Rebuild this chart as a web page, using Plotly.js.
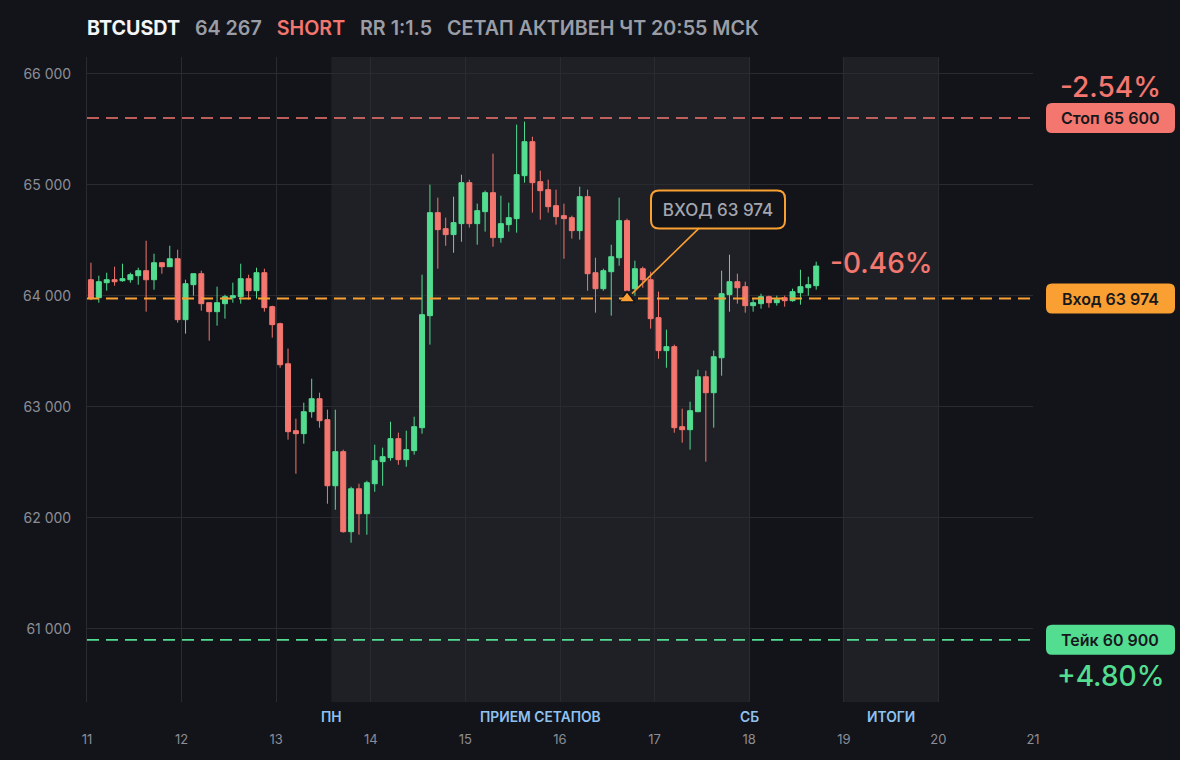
<!DOCTYPE html>
<html><head><meta charset="utf-8">
<script src="https://cdn.plot.ly/plotly-3.0.1.min.js"></script>
<style>html,body{margin:0;padding:0;background:#131419;}#chart{width:1180px;height:760px;}</style>
</head><body><div id="chart"></div>
<script>
// ---- data ----
const symbol = 'BTCUSDT';
const side = 'SHORT';
const rrText = 'RR 1:1.5';
const statusText = 'СЕТАП АКТИВЕН ЧТ 20:55 МСК';
const firstCandle = Date.UTC(2024, 4, 11, 1, 0);   // 11th, 01:00 (candle centre)
const candleHours = 2;

const openP  = [64144,63982,64117,64144,64135,64144,64180,64225,64144,64297,64261,64333,63784,64099,64198,63937,63856,63928,63982,63991,
                64153,64045,64207,63901,63748,63387,62784,62757,62955,63072,62883,62288,62595,61874,62261,62036,62306,62505,62541,62712,
                62523,62604,62811,63820,64748,64604,64550,64649,65018,64649,64757,64928,64523,64640,64694,65081,65387,65027,64955,64811,
                64721,64703,64586,64892,64207,64063,64216,64342,64676,64063,64243,64144,63802,63505,63541,62820,62793,62955,63270,63126,
                63441,64009,64126,64081,63910,63928,63991,63937,63982,63955,64027,64072,64090];
const highP  = [64297,64180,64207,64261,64288,64207,64252,64495,64378,64297,64450,64414,64144,64198,64225,63937,64081,64009,64117,64288,
                64189,64252,64243,63910,63757,63523,62892,63036,63252,63126,62973,62973,62613,62279,62306,62333,62658,62631,62865,62766,
                62784,62910,64189,65000,64883,64703,64892,65090,65045,64829,64946,65279,64901,64838,65541,65568,65432,65126,65045,64955,
                64829,64721,64982,64955,64342,64243,64459,64883,64694,64315,64261,64216,64036,63694,63559,62982,63045,63333,63324,63505,
                64225,64369,64198,64126,63973,64018,64000,64000,64000,64063,64234,64171,64306];
const lowP   = [63960,63937,64045,64090,64126,64117,64099,63856,64054,64198,64261,63757,63658,64000,63865,63595,63730,63793,63937,63928,
                63964,63973,63856,63622,63351,62703,62396,62667,62901,62811,62126,62072,61865,61775,61847,61847,62234,62288,62514,62477,
                62459,62568,62757,63559,64243,64450,64387,64486,64613,64459,64577,64441,64477,64577,64568,65018,64748,64685,64748,64640,
                64333,64514,64505,64045,63847,64045,63820,64270,63990,64000,64072,63703,63432,63351,62766,62676,62613,62955,62505,62811,
                63279,63856,63928,63847,63856,63883,63892,63910,63901,63946,63919,64000,64054];
const closeP = [63973,64126,64144,64126,64153,64189,64225,64144,64297,64261,64333,63784,64108,64198,63928,63856,63937,63991,64000,64153,
                64045,64207,63892,63739,63378,62775,62757,62955,63072,62874,62288,62595,61874,62261,62036,62315,62514,62550,62712,62523,
                62613,62820,63829,64748,64595,64550,64658,65018,64649,64766,64928,64523,64649,64703,65090,65387,65018,64946,64802,64712,
                64694,64586,64892,64198,64063,64225,64351,64676,64045,64243,64144,63793,63505,63541,62811,62793,62964,63270,63126,63450,
                64018,64126,64072,63910,63937,63991,63937,63964,63955,64036,64081,64099,64267];

const entryPrice = 63974, stopPrice = 65600, takePrice = 60900;
const stopPctText = '-2.54%', takePctText = '+4.80%', currentPctText = '-0.46%';
const entryTime = '2024-05-16 17:00';
const zones = [['2024-05-13 14:00', '2024-05-18 00:00'], ['2024-05-19 00:00', '2024-05-20 00:00']];
const zoneLabelX = ['2024-05-13 14:00', '2024-05-15 19:00', '2024-05-18 00:00', '2024-05-19 12:00'];
const zoneLabelText = ['ПН', 'ПРИЕМ СЕТАПОВ', 'СБ', 'ИТОГИ'];
const xRange = ['2024-05-11 00:00', '2024-05-21 00:00'];
const yRange = [60340, 66150];

// ---- styling ----
const BG = '#131419', ZONE = '#1f2026', GRID = '#2a2b31';
const GREEN = '#52dd91', RED = '#f3766f', ORANGE = '#fa9f31';
const FONT = 'Inter, "Noto Sans", sans-serif';

const fmtNum = n => String(n).replace(/\B(?=(\d{3})+(?!\d))/g, ' ');
const times = openP.map((_, i) => new Date(firstCandle + i * candleHours * 3600e3).toISOString().slice(0, 16).replace('T', ' '));
const lastClose = closeP[closeP.length - 1];

function roundRect(x0, x1, y0, y1, r) {
  return `M${x0 + r},${y0} L${x1 - r},${y0} Q${x1},${y0} ${x1},${y0 + r} L${x1},${y1 - r} Q${x1},${y1} ${x1 - r},${y1} ` +
         `L${x0 + r},${y1} Q${x0},${y1} ${x0},${y1 - r} L${x0},${y0 + r} Q${x0},${y0} ${x0 + r},${y0} Z`;
}

const traces = [
  {
    type: 'candlestick', x: times, open: openP, high: highP, low: lowP, close: closeP,
    increasing: {line: {color: GREEN, width: 1}, fillcolor: GREEN},
    decreasing: {line: {color: RED, width: 1}, fillcolor: RED},
    whiskerwidth: 0, hoverinfo: 'skip', showlegend: false
  },
  {
    type: 'scatter', mode: 'markers', x: [entryTime], y: [entryPrice],
    marker: {symbol: 'triangle-up', size: 14, color: ORANGE, line: {color: BG, width: 1.5}},
    hoverinfo: 'skip', showlegend: false
  }
];

const shapes = [];
zones.forEach(z => shapes.push({type: 'rect', xref: 'x', yref: 'paper', x0: z[0], x1: z[1], y0: 0, y1: 1,
  fillcolor: ZONE, line: {width: 0}, layer: 'below'}));

const levels = [
  {price: stopPrice, color: RED, label: 'Стоп ' + fmtNum(stopPrice), width: 1.6},
  {price: entryPrice, color: ORANGE, label: 'Вход ' + fmtNum(entryPrice), width: 2},
  {price: takePrice, color: GREEN, label: 'Тейк ' + fmtNum(takePrice), width: 1.6}
];
levels.forEach(l => {
  shapes.push({type: 'line', xref: 'paper', yref: 'y', x0: 0, x1: 1, y0: l.price, y1: l.price,
    line: {color: l.color, width: l.width, dash: '12px,7px'}, layer: 'above'});
  shapes.push({type: 'path', xref: 'paper', yref: 'y', xsizemode: 'pixel', ysizemode: 'pixel',
    xanchor: 1, yanchor: l.price, path: roundRect(13, 142, -15, 15, 6),
    fillcolor: l.color, line: {width: 0}, layer: 'above'});
});
// callout box
shapes.push({type: 'path', xref: 'x', yref: 'y', xsizemode: 'pixel', ysizemode: 'pixel',
  xanchor: entryTime, yanchor: entryPrice, path: roundRect(24, 158, 70, 108, 8),
  fillcolor: BG, line: {color: ORANGE, width: 2}, layer: 'above'});

const annotations = [];
zoneLabelX.forEach((x, i) => annotations.push({xref: 'x', yref: 'paper', x: x, y: 0, yshift: -15, yanchor: 'middle',
  text: zoneLabelText[i], showarrow: false, font: {family: FONT, size: 13.8, weight: 600, color: '#8fc2f2'}}));
levels.forEach(l => annotations.push({xref: 'paper', yref: 'y', x: 1, xshift: 77, y: l.price, xanchor: 'center', yanchor: 'middle',
  text: l.label, showarrow: false, font: {family: FONT, size: 16, weight: 600, color: '#17181c'}}));
annotations.push({xref: 'paper', yref: 'y', x: 1, xshift: 77, y: stopPrice, yshift: 31, xanchor: 'center', yanchor: 'middle',
  text: stopPctText, showarrow: false, font: {family: FONT, size: 28, weight: 500, color: RED}});
annotations.push({xref: 'paper', yref: 'y', x: 1, xshift: 77, y: takePrice, yshift: -36, xanchor: 'center', yanchor: 'middle',
  text: takePctText, showarrow: false, font: {family: FONT, size: 28, weight: 500, color: GREEN}});
annotations.push({xref: 'x', yref: 'y', x: times[times.length - 1], xshift: 12, y: lastClose, yshift: 3, xanchor: 'left', yanchor: 'middle',
  text: currentPctText, showarrow: false, font: {family: FONT, size: 28, weight: 500, color: RED}});
annotations.push({xref: 'x', yref: 'y', x: entryTime, y: entryPrice, ax: 91, ay: -89, axref: 'pixel', ayref: 'pixel',
  text: 'ВХОД ' + fmtNum(entryPrice), showarrow: true, arrowhead: 0, arrowwidth: 1.6, arrowcolor: ORANGE, standoff: 7,
  width: 130, height: 34, borderpad: 1, borderwidth: 1, bordercolor: 'rgba(0,0,0,0)',
  font: {family: FONT, size: 17, weight: 500, color: '#a3a6ae'}});

const sp = '\u00a0\u00a0\u00a0';
const titleText = `<span style="color:#f4f5f7;font-weight:700">${symbol}</span>${sp}${fmtNum(lastClose)}${sp}<span style="color:${RED}">${side}</span>${sp}${rrText}${sp}${statusText}`;

const layout = {
  width: 1180, height: 760,
  paper_bgcolor: BG, plot_bgcolor: BG,
  margin: {l: 87, r: 147, t: 57, b: 58},
  separators: '. ',
  showlegend: false,
  title: {text: titleText, xref: 'container', x: 87 / 1180, xanchor: 'left', yref: 'container', y: 1 - 28 / 760, yanchor: 'middle',
    font: {family: FONT, size: 19.7, weight: 600, color: '#9a9da6'}},
  xaxis: {type: 'date', range: xRange, tick0: '2024-05-11', dtick: 86400000, tickformat: '%-d',
    showgrid: true, gridcolor: GRID, gridwidth: 1, zeroline: false, showline: false, ticks: '',
    ticklabelstandoff: 28, tickfont: {family: FONT, size: 13, color: '#8b8e97'},
    rangeslider: {visible: false}, fixedrange: true},
  yaxis: {range: yRange, tick0: 0, dtick: 1000, tickformat: ',d', showgrid: true, gridcolor: GRID, gridwidth: 1,
    zeroline: false, showline: true, linecolor: GRID, linewidth: 1, ticks: '', ticklabelstandoff: 12,
    tickfont: {family: FONT, size: 14, color: '#8b8e97'}, fixedrange: true},
  boxgap: 0.1,
  shapes: shapes,
  annotations: annotations
};

Plotly.newPlot('chart', traces, layout, {displayModeBar: false, staticPlot: true});
</script>
</body></html>
